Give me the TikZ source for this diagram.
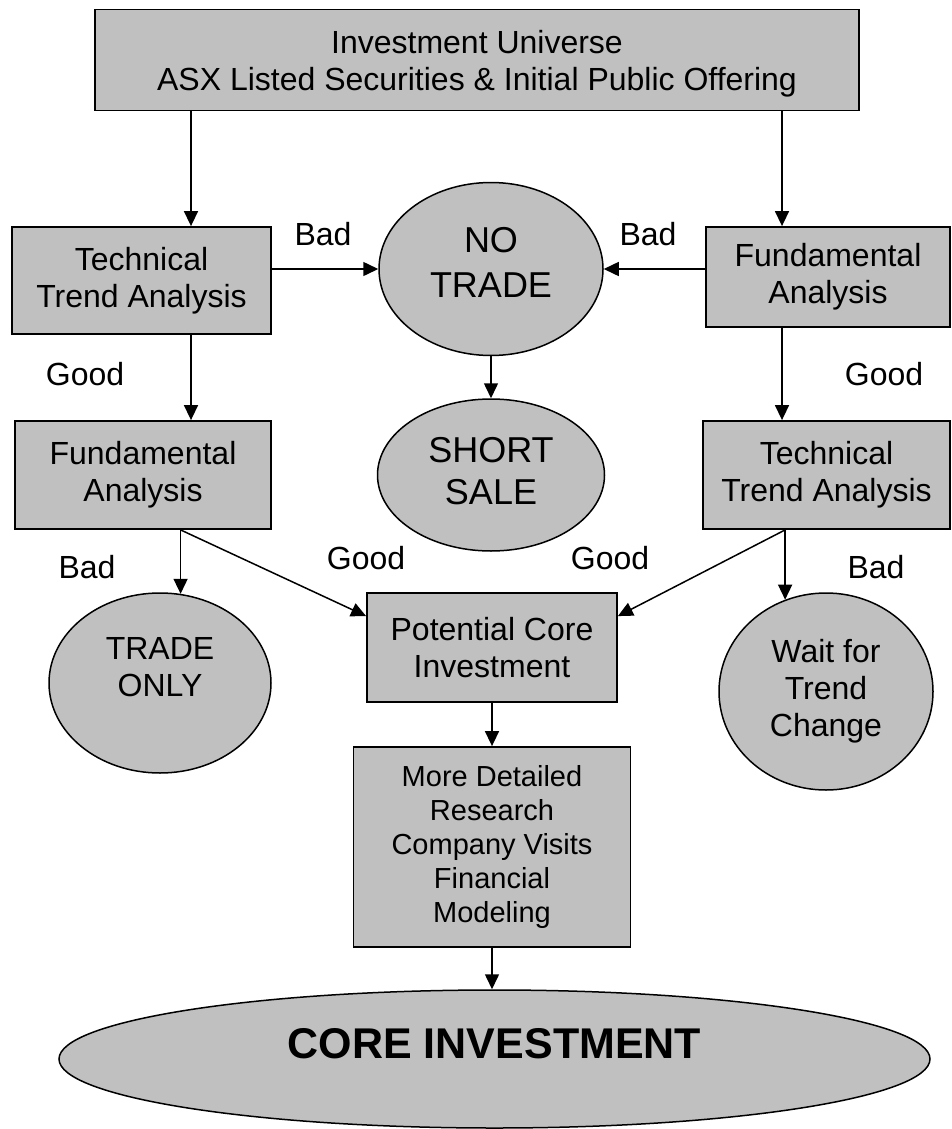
\documentclass[tikz,border=0pt]{standalone}
\usepackage{fontspec}
\setmainfont{Liberation Sans}
\usetikzlibrary{arrows.meta,shapes.geometric}
\definecolor{boxgray}{HTML}{C0C0C0}
\tikzset{every picture/.style={line width=0.75pt}}
\tikzset{
  box/.style={draw, line width=1.8pt, fill=boxgray, align=center, inner sep=2pt,
    font=\fontsize{32}{37}\selectfont},
  oval/.style={ellipse, draw, line width=1.5pt, fill=boxgray, align=center, inner sep=0pt,
    font=\fontsize{32}{37}\selectfont},
  lbl/.style={inner sep=0pt, font=\fontsize{32}{37}\selectfont},
  arr/.style={line width=1.5pt, -{Triangle[length=15pt,width=14pt]}},
}

\begin{document}
\begin{tikzpicture}[x=1pt, y=-1pt]
    \useasboundingbox (0,0) rectangle (952,1129);
    % 顶部
    \node[box, minimum width=764pt, minimum height=101pt, text depth=0pt] (universe) at (477,60)
        {Investment Universe\\ASX Listed Securities \& Initial Public Offering};
    \coordinate (colL) at (191,0);
    \coordinate (colR) at (782,0);
    % 第一层
    \node[box, minimum width=259pt, minimum height=107pt] (tta1) at (141.5,280.5) {Technical\\Trend Analysis};
    \node[oval, minimum width=224pt, minimum height=173pt, font=\fontsize{36}{45}\selectfont, text depth=14pt]
        (notrade) at (491,269) {NO\\TRADE};
    \node[box, minimum width=244pt, minimum height=100pt] (fa1) at (828,277) {Fundamental\\Analysis};
    \node[lbl] (bad1) at (323,234) {Bad};
    \node[lbl] (bad2) at (648,234) {Bad};
    \draw[arr] (universe.south -| colL) -- (tta1.north -| colL);
    \draw[arr] (universe.south -| colR) -- (fa1.north -| colR);
    \draw[arr] (tta1.east |- notrade) -- (notrade.west);
    \draw[arr] (fa1.west |- notrade) -- (notrade.east);
    % 第二层
    \node[box, minimum width=256pt, minimum height=108pt] (fa2) at (143,475) {Fundamental\\Analysis};
    \node[oval, minimum width=227pt, minimum height=152pt, font=\fontsize{36}{42}\selectfont, text depth=8pt]
        (shortsale) at (491,475) {SHORT\\SALE};
    \node[box, minimum width=247pt, minimum height=108pt] (tta2) at (826.5,475) {Technical\\Trend Analysis};
    \node[lbl] (good1) at (85,374) {Good};
    \node[lbl] (good2) at (884,374) {Good};
    \draw[arr] (tta1.south -| colL) -- (fa2.north -| colL);
    \draw[arr] (fa1.south -| colR) -- (tta2.north -| colR);
    \draw[arr] (notrade) -- (shortsale);
    % 第三层
    \node[oval, minimum width=222pt, minimum height=180pt, text depth=32pt] (tradeonly) at (160,683) {TRADE\\ONLY};
    \node[box, minimum width=250pt, minimum height=109pt] (potential) at (492,647.5) {Potential Core\\Investment};
    \node[oval, minimum width=214pt, minimum height=197pt] (wait) at (826,691.5) {Wait for\\Trend\\Change};
    \node[lbl] (bad3) at (87,567) {Bad};
    \node[lbl] (good3) at (366,558) {Good};
    \node[lbl] (good4) at (610,558) {Good};
    \node[lbl] (bad4) at (876,567) {Bad};
    \draw[arr] (fa2.south -| tradeonly.77) -- (tradeonly.77);
    \draw[arr] (fa2.south -| tradeonly.77) -- (potential.166);
    \draw[arr] (tta2.south -| wait.114) -- (wait.114);
    \draw[arr] (tta2.south -| wait.114) -- (potential.14);
    % 底部
    \node[box, minimum width=277pt, minimum height=200pt, font=\fontsize{29}{34}\selectfont] (research) at (492,847)
        {More Detailed\\Research\\Company Visits\\Financial\\Modeling};
    \node[oval, minimum width=871pt, minimum height=138pt, font=\bfseries\fontsize{43}{50}\selectfont, text depth=32pt]
        (core) at (494.5,1059) {CORE INVESTMENT};
    \draw[arr] (potential) -- (research);
    \draw[arr] (research) -- (research |- core.north);
\end{tikzpicture}
\end{document}
